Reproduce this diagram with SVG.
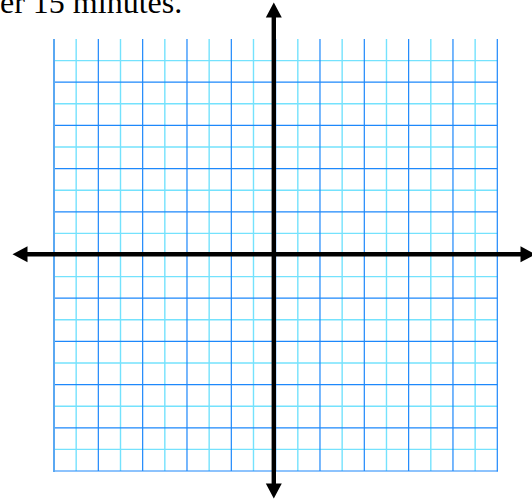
<svg xmlns="http://www.w3.org/2000/svg" width="532" height="501" viewBox="0 0 532 501">
<style>
.minor{stroke:#74e2fd;stroke-width:1.4;fill:none}
.major{stroke:#1d88fb;stroke-width:1.2;fill:none}
.edge{stroke:#5aa8f2;stroke-width:2;fill:none}
.axis{stroke:#000;stroke-width:4.4;fill:none;marker-start:url(#arr);marker-end:url(#arr)}
.caption{font-family:"Liberation Serif","Times New Roman",serif;font-size:32px;fill:#000}
</style>
<defs>
<marker id="arr" markerUnits="userSpaceOnUse" viewBox="0 -8 15 16" refX="0.5" refY="0" markerWidth="15" markerHeight="16" orient="auto-start-reverse" overflow="visible">
<path d="M0,-8 L15,0 L0,8 Z" fill="#000"/>
</marker>
</defs>
<rect width="532" height="501" fill="#fff"/>
<text class="caption" x="0" y="12.5">er 15 minutes.</text>
<g id="grid-minor">
<path class="minor" d="M76.17,39V471M120.5,39V471M164.83,39V471M209.16,39V471M253.49,39V471M297.82,39V471M342.15,39V471M386.48,39V471M430.81,39V471M475.14,39V471"/>
<path class="minor" d="M54,60.6H497.3M54,103.8H497.3M54,147H497.3M54,190.2H497.3M54,233.4H497.3M54,276.6H497.3M54,319.8H497.3M54,363H497.3M54,406.2H497.3M54,449.4H497.3"/>
</g>
<g id="grid-major">
<path class="major" d="M98.33,39V471M142.66,39V471M186.99,39V471M231.32,39V471M275.65,39V471M319.98,39V471M364.31,39V471M408.64,39V471M452.97,39V471M497.3,39V471.6"/>
<path class="major" d="M54,82.2H497.3M54,125.4H497.3M54,168.6H497.3M54,211.8H497.3M54,255H497.3M54,298.2H497.3M54,341.4H497.3M54,384.6H497.3M54,427.8H497.3M54,471H497.9"/>
<path class="edge" d="M54,39V472"/>
</g>
<g id="axes">
<line id="y-axis" class="axis" x1="273.8" y1="17" x2="273.8" y2="484"/>
<line id="x-axis" class="axis" x1="27" y1="254.3" x2="521" y2="254.3"/>
</g>
</svg>
